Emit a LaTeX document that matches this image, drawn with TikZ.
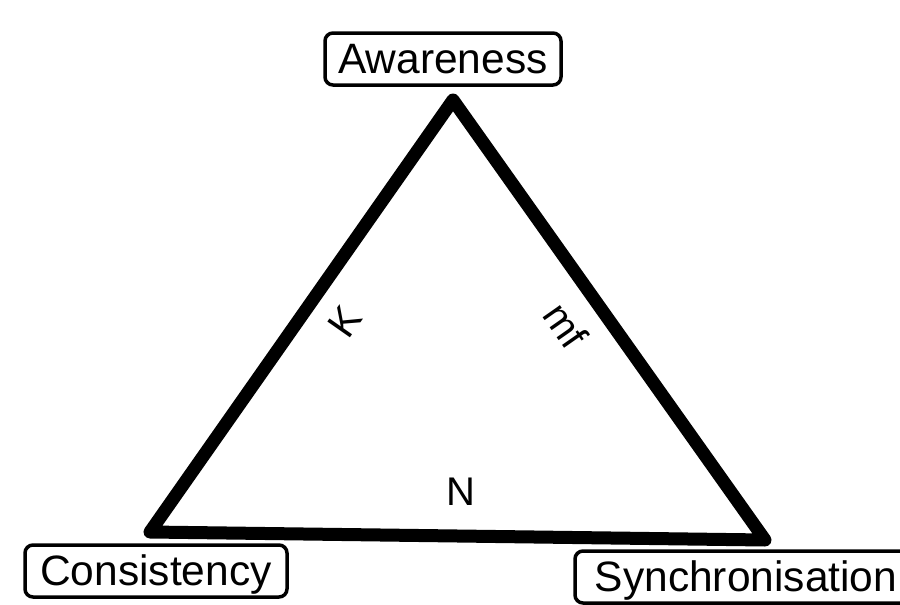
\documentclass[tikz,border=0pt]{standalone}
\usepackage{fontspec}
\setmainfont{Liberation Sans}
\begin{document}
\begin{tikzpicture}[x=1pt,y=-1pt,
  lbl/.style={draw, line width=3.5pt, rounded corners=8pt, inner sep=0pt,
    font=\fontsize{42.5}{42.5}\selectfont, text height=32pt, text depth=4pt, minimum height=52pt},
  tri/.style={line width=13pt, line join=round},
  edgelbl/.style={font=\fontsize{40}{40}\selectfont, inner sep=0pt}]
\useasboundingbox (0,0) rectangle (900,605);
\clip (0,0) rectangle (900,605);
\coordinate (top) at (453,100);
\coordinate (bl) at (150,532);
\coordinate (br) at (765,540);
\draw[tri] (top) -- (bl) -- (br) -- cycle;
\node[lbl, minimum width=236pt] (aw) at (443,59) {Awareness};
\node[lbl, minimum width=262pt] (co) at (156,571) {Consistency};
\node[lbl, minimum width=342pt] (sy) at (746,577) {Synchronisation};
\node[edgelbl, rotate=55] (k) at (345,322) {K};
\node[edgelbl, rotate=-55] (mf) at (566,325) {mf};
\node[edgelbl] (n) at (461,492) {N};
\end{tikzpicture}
\end{document}
